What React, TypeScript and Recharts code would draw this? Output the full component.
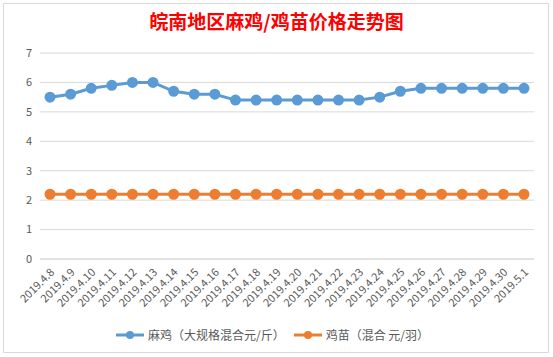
import { LineChart, Line, XAxis, YAxis, CartesianGrid, Legend } from "recharts";

const dates = [
  "2019.4.8", "2019.4.9", "2019.4.10", "2019.4.11", "2019.4.12", "2019.4.13",
  "2019.4.14", "2019.4.15", "2019.4.16", "2019.4.17", "2019.4.18", "2019.4.19",
  "2019.4.20", "2019.4.21", "2019.4.22", "2019.4.23", "2019.4.24", "2019.4.25",
  "2019.4.26", "2019.4.27", "2019.4.28", "2019.4.29", "2019.4.30", "2019.5.1",
];
const chicken = [5.5, 5.6, 5.8, 5.9, 6.0, 6.0, 5.7, 5.6, 5.6, 5.4, 5.4, 5.4, 5.4, 5.4, 5.4, 5.4, 5.5, 5.7, 5.8, 5.8, 5.8, 5.8, 5.8, 5.8];
const chicks = [2.2, 2.2, 2.2, 2.2, 2.2, 2.2, 2.2, 2.2, 2.2, 2.2, 2.2, 2.2, 2.2, 2.2, 2.2, 2.2, 2.2, 2.2, 2.2, 2.2, 2.2, 2.2, 2.2, 2.2];
const yTicks = [0, 1, 2, 3, 4, 5, 6, 7];

const data = dates.map((d, i) => ({ date: d, chicken: chicken[i], chicks: chicks[i] }));

const font = "'Microsoft YaHei', 'Noto Sans CJK SC', sans-serif";
const BLUE = "#5B9BD5";
const ORANGE = "#ED7D31";

function DateTick({ x, y, payload }: any) {
  return (
    <text x={x + 5} y={y + 6} transform={`rotate(-45 ${x + 5} ${y + 6})`} textAnchor="end" fill="#595959" fontSize={11} fontFamily={font}>
      {payload.value}
    </text>
  );
}

function LegendBox() {
  const items = [
    { name: "麻鸡（大规格混合元/斤）", color: BLUE },
    { name: "鸡苗（混合 元/羽）", color: ORANGE },
  ];
  return (
    <div style={{ display: "flex", justifyContent: "center", gap: 8, fontFamily: font, fontSize: 12, color: "#595959" }}>
      {items.map(it => (
        <div key={it.name} style={{ display: "flex", alignItems: "center", gap: 3 }}>
          <svg width={30} height={10}>
            <line x1={1} y1={5} x2={29} y2={5} stroke={it.color} strokeWidth={3} />
            <circle cx={15} cy={5} r={4} fill={it.color} />
          </svg>
          <span>{it.name}</span>
        </div>
      ))}
    </div>
  );
}

export default function App() {
  return (
    <div style={{ position: "absolute", left: 0, top: 0, width: 553, height: 357, background: "#fff" }}>
      <div style={{ position: "absolute", left: 3, top: 3, width: 544, height: 348, border: "1px solid #D9D9D9" }} />
      <div style={{ position: "absolute", left: 0, top: 7, width: 553, textAlign: "center", color: "#FF0000", fontFamily: font, fontWeight: 700, fontSize: 19 }}>
        皖南地区麻鸡/鸡苗价格走势图
      </div>
      <LineChart width={553} height={357} data={data} margin={{ top: 53, right: 19, bottom: 14, left: 10 }}>
        <CartesianGrid vertical={false} stroke="#D9D9D9" />
        <XAxis dataKey="date" interval={0} tick={<DateTick />} tickLine={false} axisLine={{ stroke: "#D9D9D9" }} height={67} padding={{ left: 10, right: 10 }} />
        <YAxis domain={[0, 7]} ticks={yTicks} width={30} tick={{ fill: "#595959", fontSize: 11, fontFamily: font }} tickLine={false} axisLine={false} />
        <Legend verticalAlign="bottom" content={<LegendBox />} />
        <Line dataKey="chicken" stroke={BLUE} strokeWidth={3} dot={{ r: 4, fill: BLUE, stroke: BLUE }} isAnimationActive={false} />
        <Line dataKey="chicks" stroke={ORANGE} strokeWidth={3} dot={{ r: 4, fill: ORANGE, stroke: ORANGE }} isAnimationActive={false} />
      </LineChart>
    </div>
  );
}
